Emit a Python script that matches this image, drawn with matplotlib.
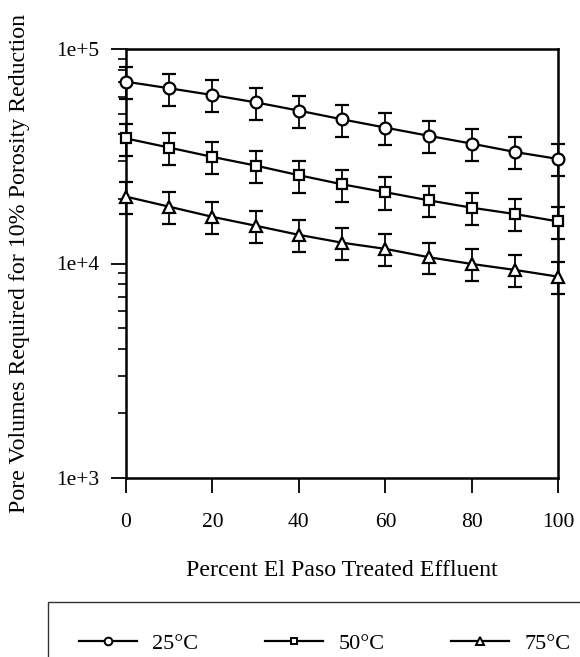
import matplotlib
matplotlib.use("Agg")
import matplotlib.pyplot as plt
from matplotlib import ticker
import numpy as np

pct_effluent = [0, 10, 20, 30, 40, 50, 60, 70, 80, 90, 100]

pv_25c = [70400, 65600, 61000, 56400, 51600, 47000, 43000, 39400, 36200, 33100, 30700]
err_25c = [12000, 11200, 10400, 9600, 8800, 8000, 7300, 6700, 6200, 5600, 5200]

pv_50c = [38300, 34700, 31400, 28600, 25800, 23400, 21500, 19700, 18200, 17000, 15700]
err_50c = [6500, 5900, 5300, 4900, 4400, 4000, 3700, 3300, 3100, 2900, 2700]

pv_75c = [20500, 18400, 16500, 15000, 13600, 12500, 11700, 10700, 9950, 9330, 8680]
err_75c = [3500, 3100, 2800, 2500, 2300, 2100, 2000, 1800, 1700, 1600, 1500]

labels = ["25°C", "50°C", "75°C"]
x_ticks = [0, 20, 40, 60, 80, 100]

plt.rcParams['font.family'] = ['Liberation Serif', 'DejaVu Serif']
plt.rcParams['font.size'] = 15.5

fig = plt.figure(figsize=(5.8, 6.57), dpi=100)
ax = fig.add_axes([126/580, 1 - 478/657, (558.3 - 126)/580, (478 - 49)/657])

series = [(pv_25c, err_25c, 'o', 8.5), (pv_50c, err_50c, 's', 6.5), (pv_75c, err_75c, '^', 8)]
handles = []
for (vals, errs, mk, ms), lab in zip(series, labels):
    ax.errorbar(pct_effluent, vals, yerr=errs, fmt='-', marker=mk, color='black',
                mfc='white', mec='black', mew=1.6, ms=ms, lw=1.6,
                elinewidth=1.3, capsize=4.7, capthick=1.3, clip_on=False, zorder=3)
    h, = ax.plot([], [], '-', marker=mk, color='black', mfc='white', mec='black',
                 mew=1.4, ms=ms * 0.65, lw=1.6, label=lab)
    handles.append(h)

ax.set_yscale('log')
ax.set_ylim(1e3, 1e5)
ax.set_xlim(0, 100)
ax.set_xticks(x_ticks)
ax.xaxis.set_minor_locator(ticker.NullLocator())
ax.yaxis.set_major_locator(ticker.LogLocator(base=10, numticks=5))
ax.yaxis.set_major_formatter(ticker.FuncFormatter(lambda v, p: "1e+%d" % round(np.log10(v))))
ax.yaxis.set_minor_locator(ticker.LogLocator(base=10, subs=np.arange(2, 10), numticks=20))
ax.yaxis.set_minor_formatter(ticker.NullFormatter())

ax.tick_params(axis='both', which='major', direction='out', length=11, width=1.3)
ax.tick_params(axis='y', which='major', pad=8)
ax.tick_params(axis='x', which='major', pad=14)
ax.tick_params(axis='y', which='minor', direction='out', length=6, width=1.2)
for s in ax.spines.values():
    s.set_linewidth(1.8)

ax.set_xlabel("Percent El Paso Treated Effluent", fontsize=17.2, labelpad=20)
ax.set_ylabel("Pore Volumes Required for 10% Porosity Reduction", fontsize=17.2, labelpad=19)

leg = fig.legend(handles=handles, loc='upper left', bbox_to_anchor=(48/580, 1 - 602/657),
                 borderaxespad=0, ncol=3, frameon=True, fancybox=False, edgecolor='black',
                 handlelength=2.6, columnspacing=3.0, borderpad=1.4, handletextpad=0.7,
                 fontsize=16)
leg.get_frame().set_linewidth(1.0)

fig.savefig("out.png", dpi=100)
